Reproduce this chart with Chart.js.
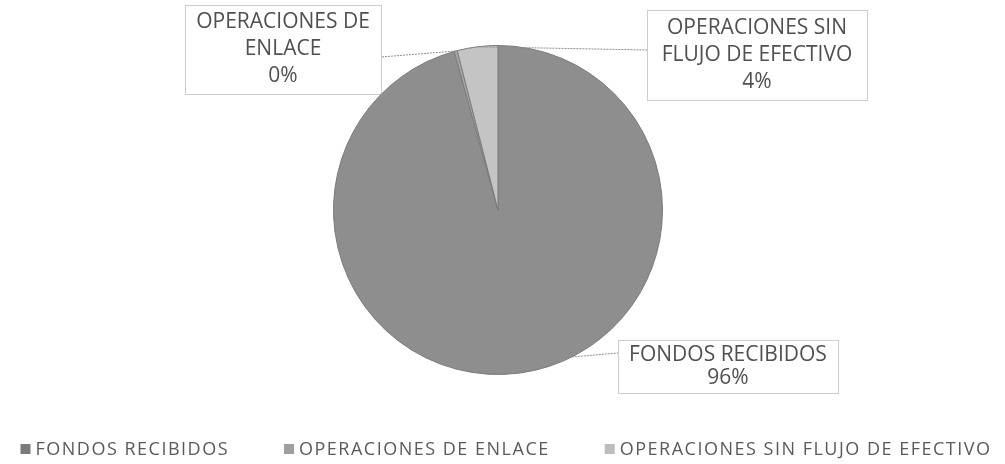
<!DOCTYPE html>
<html>
<head>
<meta charset="utf-8">
<script src="https://cdn.jsdelivr.net/npm/chart.js@4.4.0/dist/chart.umd.min.js"></script>
<style>
  html, body { margin: 0; padding: 0; background: #fff; }
</style>
</head>
<body>
<canvas id="graficoFondos" width="1005" height="464"></canvas>
<script>
var categorias = ["FONDOS RECIBIDOS", "OPERACIONES DE ENLACE", "OPERACIONES SIN FLUJO DE EFECTIVO"];
var valores = [96, 0.3, 4];
var lineasEtiqueta = [["FONDOS RECIBIDOS"], ["OPERACIONES DE", "ENLACE"], ["OPERACIONES SIN", "FLUJO DE EFECTIVO"]];

var colores = ["#8e8e8e", "#a9a9a9", "#c4c4c4"];
var coloresLeyenda = ["#7b7b7b", "#9f9f9f", "#bcbcbc"];

// cajas de las etiquetas y punto donde se une la linea guia
var cajas = [
  { x: 618, y: 340, w: 220, h: 53, ux: 618, uy: 353, t: 0.445 },
  { x: 185, y: 5, w: 196, h: 89, ux: 381, uy: 57, t: 0.5 },
  { x: 647, y: 10, w: 220, h: 90, ux: 647, uy: 50, t: 0.5 }
];

var pluginEtiquetas = {
  id: "etiquetas",
  afterDatasetsDraw: function (chart) {
    var ctx = chart.ctx;
    var arcos = chart.getDatasetMeta(0).data;
    var total = valores.reduce(function (a, b) { return a + b; }, 0);
    ctx.save();
    for (var i = 0; i < arcos.length; i++) {
      var a = arcos[i];
      var c = cajas[i];
      var ang = a.startAngle + (a.endAngle - a.startAngle) * c.t;
      var px = a.x + Math.cos(ang) * a.outerRadius;
      var py = a.y + Math.sin(ang) * a.outerRadius;

      ctx.strokeStyle = "#8c8c8c";
      ctx.lineWidth = 1;
      ctx.setLineDash([2, 1]);
      ctx.beginPath();
      ctx.moveTo(px, py);
      ctx.lineTo(c.ux, c.uy);
      ctx.stroke();

      ctx.fillStyle = "#fff";
      ctx.fillRect(c.x, c.y, c.w, c.h);
      ctx.setLineDash([1, 1]);
      ctx.strokeStyle = "#9a9a9a";
      ctx.strokeRect(c.x + 0.5, c.y + 0.5, c.w, c.h);

      var lineas = lineasEtiqueta[i].concat([Math.round(valores[i] / total * 100) + "%"]);
      var lh = Math.min(27, (c.h - 8) / lineas.length);
      var y0 = c.y + c.h / 2 - (lineas.length - 1) * lh / 2;
      ctx.font = "21px 'Open Sans'";
      ctx.fillStyle = "#505050";
      ctx.textAlign = "center";
      ctx.textBaseline = "middle";
      for (var k = 0; k < lineas.length; k++) {
        ctx.fillText(lineas[k], c.x + c.w / 2, y0 + k * lh);
      }
    }
    ctx.restore();
  }
};

var pluginLeyenda = {
  id: "leyenda",
  afterDraw: function (chart) {
    var ctx = chart.ctx;
    ctx.save();
    ctx.font = "18px 'Open Sans'";
    ctx.letterSpacing = "1.5px";
    var anchos = categorias.map(function (t) { return ctx.measureText(t).width; });
    var separacion = 55;
    var total = 0;
    for (var i = 0; i < anchos.length; i++) {
      total += 15 + anchos[i];
    }
    total += separacion * (anchos.length - 1);
    var x = 506 - total / 2;
    var y = 449;
    ctx.textAlign = "left";
    ctx.textBaseline = "middle";
    for (var j = 0; j < categorias.length; j++) {
      ctx.fillStyle = coloresLeyenda[j];
      ctx.fillRect(x, y - 5, 10, 10);
      ctx.fillStyle = "#5a5a5a";
      ctx.fillText(categorias[j], x + 15, y + 1);
      x += 15 + anchos[j] + separacion;
    }
    ctx.restore();
  }
};

const configPie = {
  type: "pie",
  data: {
    labels: categorias,
    datasets: [
      {
        data: valores,
        backgroundColor: colores,
        borderColor: "#7a7a7a",
        borderWidth: 1
      }
    ]
  },
  options: {
    responsive: false,
    animation: false,
    layout: { padding: { top: 45, bottom: 89, left: 0, right: 9 } },
    plugins: {
      legend: { display: false },
      tooltip: { enabled: false }
    }
  },
  plugins: [pluginEtiquetas, pluginLeyenda]
};

var graficoFondos = new Chart(document.getElementById("graficoFondos"), configPie);
</script>
</body>
</html>
